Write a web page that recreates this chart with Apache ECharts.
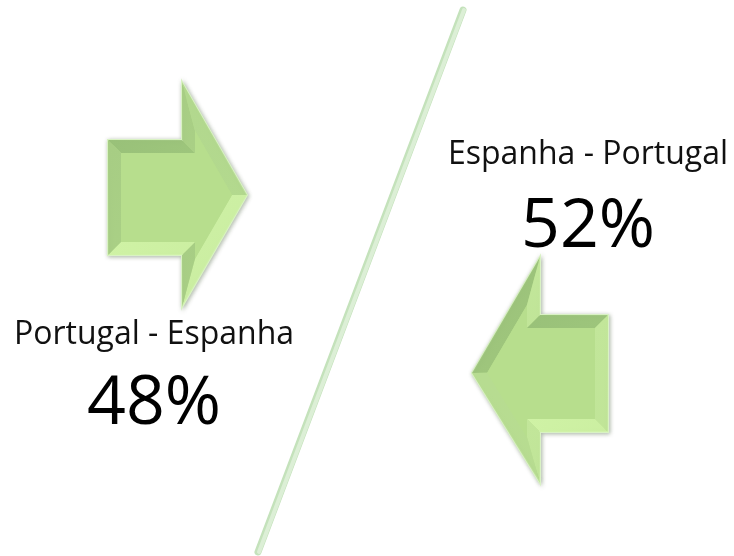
<!DOCTYPE html>
<html lang="pt">
    <head>
        <meta http-equiv="Content-Type" content="text/html; charset=utf-8" />
        <title>Portugal - Espanha</title>
        <style>
            * {
                margin: 0;
                padding: 0;
            }
            html,
            body {
                width: 100%;
                height: 100%;
                background: #fff;
            }
            #chart {
                width: 734px;
                height: 556px;
            }
        </style>
    </head>
    <body>
        <div id="chart"></div>
        <script src="https://cdn.jsdelivr.net/npm/echarts@6/dist/echarts.min.js"></script>
        <script>
            // dados
            const routes = ['Portugal - Espanha', 'Espanha - Portugal']
            const shares = [48, 52]

            // layout (px)
            const textPos = [
                { x: 154, label: 335, value: 405 },
                { x: 588, label: 155, value: 228 },
            ]
            const arrowShapes = [
                // seta para a direita
                [[108, 140], [182, 140], [182, 82], [247, 195], [182, 307], [182, 255], [108, 255]],
                // seta para a esquerda
                [[472, 373], [540, 257], [540, 315], [608, 315], [608, 432], [540, 432], [540, 483]],
            ]

            const BEVEL = 13
            const FACE = '#b7de8d'
            const DARK = [150, 190, 118]
            const LIGHT = [210, 245, 168]

            function lineIntersect(p1, d1, p2, d2) {
                const den = d1[0] * d2[1] - d1[1] * d2[0]
                if (Math.abs(den) < 1e-9) return p2
                const t = ((p2[0] - p1[0]) * d2[1] - (p2[1] - p1[1]) * d2[0]) / den
                return [p1[0] + d1[0] * t, p1[1] + d1[1] * t]
            }

            function bevelArrow(pts) {
                const n = pts.length
                let area = 0
                for (let i = 0; i < n; i++) {
                    const a = pts[i], b = pts[(i + 1) % n]
                    area += a[0] * b[1] - b[0] * a[1]
                }
                const sgn = area > 0 ? 1 : -1
                const lines = []
                const normals = []
                for (let i = 0; i < n; i++) {
                    const a = pts[i], b = pts[(i + 1) % n]
                    const dx = b[0] - a[0], dy = b[1] - a[1]
                    const len = Math.hypot(dx, dy)
                    // normal para fora
                    const nx = (dy / len) * sgn, ny = (-dx / len) * sgn
                    normals.push([nx, ny])
                    lines.push({ p: [a[0] - nx * BEVEL, a[1] - ny * BEVEL], d: [dx, dy] })
                }
                const inner = []
                for (let i = 0; i < n; i++) {
                    const prev = lines[(i - 1 + n) % n]
                    inner.push(lineIntersect(prev.p, prev.d, lines[i].p, lines[i].d))
                }
                const els = []
                els.push({
                    type: 'polygon',
                    shape: { points: pts },
                    style: {
                        fill: FACE,
                        stroke: '#d9f2c4',
                        lineWidth: 2,
                        shadowBlur: 4,
                        shadowColor: 'rgba(90,110,80,0.45)',
                        shadowOffsetX: 1,
                        shadowOffsetY: 1,
                    },
                })
                const L = [0.45, 0.89]
                for (let i = 0; i < n; i++) {
                    const j = (i + 1) % n
                    const s = (normals[i][0] * L[0] + normals[i][1] * L[1] + 1) / 2
                    const c = DARK.map((v, k) => Math.round(v + (LIGHT[k] - v) * s))
                    els.push({
                        type: 'polygon',
                        shape: { points: [pts[i], pts[j], inner[j], inner[i]] },
                        style: {
                            fill: {
                                type: 'linear',
                                x: 0, y: 0, x2: 1, y2: 1,
                                colorStops: [
                                    { offset: 0, color: `rgb(${c.join(',')})` },
                                    { offset: 1, color: `rgba(${c.join(',')},0.85)` },
                                ],
                            },
                        },
                    })
                }
                els.push({
                    type: 'polygon',
                    shape: { points: inner },
                    style: { fill: FACE },
                })
                return els
            }

            const graphic = []

            // linha diagonal
            graphic.push({
                type: 'line',
                shape: { x1: 463, y1: 10, x2: 258, y2: 552 },
                style: { stroke: '#c4e2bb', lineWidth: 7, lineCap: 'round' },
            })
            graphic.push({
                type: 'line',
                shape: { x1: 464, y1: 10, x2: 259, y2: 552 },
                style: { stroke: '#dcefd6', lineWidth: 4, lineCap: 'round' },
            })

            arrowShapes.forEach((pts) => {
                graphic.push(...bevelArrow(pts))
            })

            routes.forEach((name, i) => {
                graphic.push({
                    type: 'text',
                    x: textPos[i].x,
                    y: textPos[i].label,
                    style: {
                        text: name,
                        fill: '#111',
                        font: '32px "Open Sans"',
                        textAlign: 'center',
                        textVerticalAlign: 'middle',
                    },
                })
                graphic.push({
                    type: 'text',
                    x: textPos[i].x,
                    y: textPos[i].value,
                    style: {
                        text: shares[i] + '%',
                        fill: '#000',
                        font: '68px "Open Sans"',
                        textAlign: 'center',
                        textVerticalAlign: 'middle',
                    },
                })
            })

            const chart = echarts.init(document.getElementById('chart'))
            chart.setOption({
                backgroundColor: '#fff',
                animation: false,
                graphic,
            })
        </script>
    </body>
</html>
